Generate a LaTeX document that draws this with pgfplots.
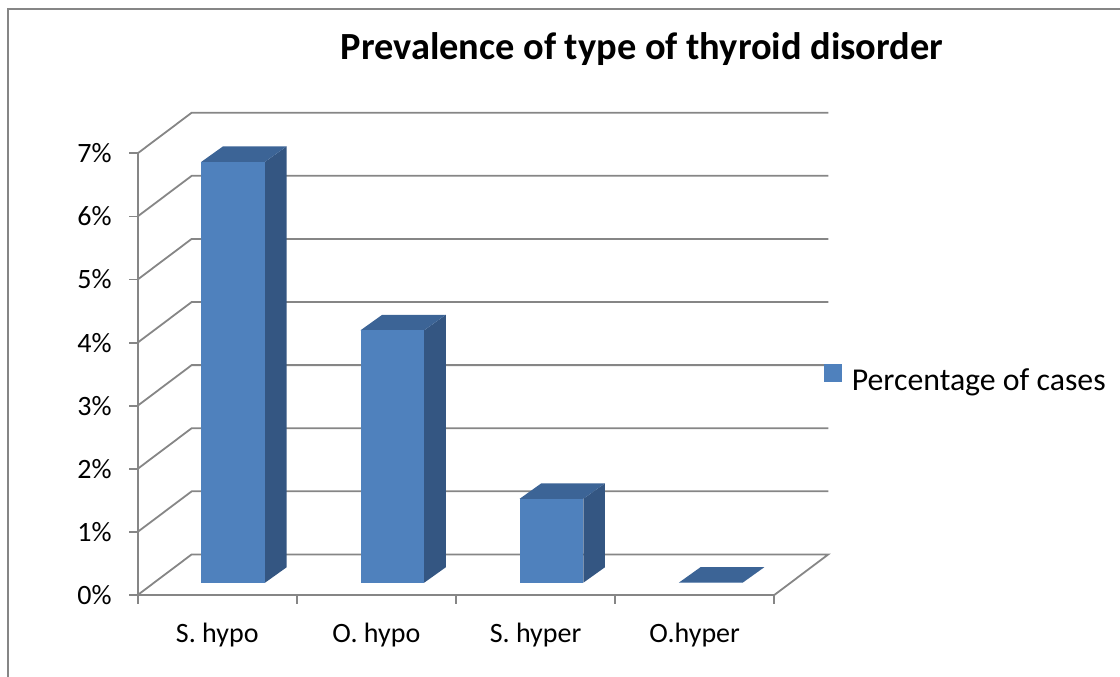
\documentclass[border=0pt]{standalone}
\usepackage{fontspec}
\setmainfont{Carlito}
\usepackage{pgfplots}
\pgfplotsset{compat=1.18}
\definecolor{barfront}{RGB}{79,129,189}
\definecolor{bartop}{RGB}{60,100,150}
\definecolor{barside}{RGB}{52,86,130}
\definecolor{gridcol}{RGB}{134,134,134}
% 3D column: #1 = category centre, #2 = value (%)
\newcommand\tdbar[2]{%
  \pgfmathsetmacro\xa{#1-0.2+0.10}%
  \pgfmathsetmacro\xb{#1+0.2+0.10}%
  \pgfmathsetmacro\xc{#1-0.2+0.236}%
  \pgfmathsetmacro\xd{#1+0.2+0.236}%
  \pgfmathsetmacro\yb{0.195+#2}%
  \pgfmathsetmacro\yd{0.44+#2}%
  \edef\temp{%
    \noexpand\addplot[fill=barside,draw=none,mark=none] coordinates {(\xb,0.195) (\xd,0.44) (\xd,\yd) (\xb,\yb)} -- cycle;
    \noexpand\addplot[fill=bartop,draw=none,mark=none] coordinates {(\xa,\yb) (\xb,\yb) (\xd,\yd) (\xc,\yd)} -- cycle;
    \noexpand\addplot[fill=barfront,draw=none,mark=none] coordinates {(\xa,0.195) (\xb,0.195) (\xb,\yb) (\xa,\yb)} -- cycle;
  }\temp}
\begin{document}
\begin{tikzpicture}[x=1pt,y=1pt]
\useasboundingbox (0,0) rectangle (1120,-677);
\draw[gridcol,line width=2pt] (7.5,-700) -- (7.5,-9) -- (1140,-9);
\node[font=\bfseries\fontsize{38.4}{38.4}\selectfont,anchor=base] at (642,-60) {Prevalence of type of thyroid disorder};
\begin{axis}[
  at={(137.7pt,-595pt)}, anchor=south west,
  scale only axis, width=636.6pt, height=441.7pt,
  xmin=0, xmax=4, ymin=0, ymax=7, clip=false,
  axis x line=bottom, axis y line=left,
  axis line style={gridcol,line width=1.8pt,-},
  tick style={gridcol,line width=1.8pt},
  tick align=outside, major tick length=8.5pt,
  ytick={0,...,7},
  yticklabels={0\%,1\%,2\%,3\%,4\%,5\%,6\%,7\%},
  yticklabel style={xshift=-14pt},
  xtick={0,...,4}, xticklabels={},
  extra x ticks={0.5,1.5,2.5,3.5},
  extra x tick labels={S. hypo,O. hypo,S. hyper,O.hyper},
  extra x tick style={major tick length=0pt, xticklabel style={yshift=-25pt}},
  tick label style={font=\fontsize{28}{28}\selectfont},
]
% back wall, side wall and floor
\addplot[gridcol,line width=1.8pt,mark=none] coordinates {(0,0) (0.339,0.643) (4.339,0.643) (4,0)};
\addplot[gridcol,line width=1.8pt,mark=none] coordinates {(0,1) (0.339,1.643) (4.339,1.643)};
\addplot[gridcol,line width=1.8pt,mark=none] coordinates {(0,2) (0.339,2.643) (4.339,2.643)};
\addplot[gridcol,line width=1.8pt,mark=none] coordinates {(0,3) (0.339,3.643) (4.339,3.643)};
\addplot[gridcol,line width=1.8pt,mark=none] coordinates {(0,4) (0.339,4.643) (4.339,4.643)};
\addplot[gridcol,line width=1.8pt,mark=none] coordinates {(0,5) (0.339,5.643) (4.339,5.643)};
\addplot[gridcol,line width=1.8pt,mark=none] coordinates {(0,6) (0.339,6.643) (4.339,6.643)};
\addplot[gridcol,line width=1.8pt,mark=none] coordinates {(0,7) (0.339,7.643) (4.339,7.643)};
% bars (value in %)
\tdbar{0.5}{6.67}
\tdbar{1.5}{4.00}
\tdbar{2.5}{1.33}
\tdbar{3.5}{0}
% legend
\fill[barfront] (axis cs:4.314,3.376) rectangle (axis cs:4.423,3.66);
\node[anchor=base west,font=\fontsize{31.8}{31.8}\selectfont,inner sep=0pt] at (axis cs:4.4855,3.24) {Percentage of cases};
\end{axis}
\end{tikzpicture}
\end{document}
